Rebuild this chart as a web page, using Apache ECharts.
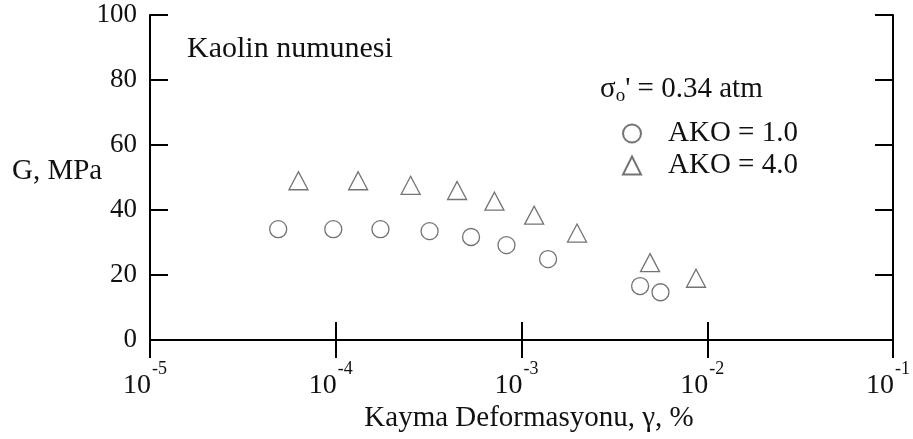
<!DOCTYPE html>
<html>
<head>
<meta charset="utf-8">
<script src="https://cdn.jsdelivr.net/npm/echarts@6/dist/echarts.min.js"></script>
<style>
  html, body { margin: 0; padding: 0; background: #fff; }
  #chart { width: 913px; height: 439px; }
</style>
</head>
<body>
<div id="chart"></div>
<script>
// Shear modulus vs. shear strain for kaolin specimens
const seriesNames = ['AKO = 1.0', 'AKO = 4.0'];
const strainAko1 = [4.9e-5, 9.7e-5, 1.74e-4, 3.2e-4, 5.35e-4, 8.3e-4, 1.39e-3, 4.35e-3, 5.6e-3];
const modulusAko1 = [34.1, 34.1, 34.1, 33.5, 31.7, 29.2, 24.9, 16.6, 14.7];
const strainAko4 = [6.3e-5, 1.32e-4, 2.53e-4, 4.5e-4, 7.15e-4, 1.17e-3, 1.99e-3, 4.92e-3, 8.7e-3];
const modulusAko4 = [49.0, 49.0, 47.6, 46.0, 42.7, 38.4, 32.9, 23.8, 19.0];
const yTicks = [0, 20, 40, 60, 80, 100];
const xTitle = 'Kayma Deformasyonu, γ, %';
const yTitle = 'G, MPa';
const sampleTitle = 'Kaolin numunesi';

const FONT = "'Liberation Serif', 'Times New Roman', serif";
const INK = '#111';
const MARK = '#505050';

const zip = (xs, ys) => xs.map((x, i) => [x, ys[i]]);

const axisLineStyle = { lineStyle: { color: '#000', width: 2 } };
const tickIn = { show: true, inside: true, length: 18, lineStyle: { color: '#000', width: 2 } };

const chart = echarts.init(document.getElementById('chart'), null, { renderer: 'canvas' });

chart.setOption({
  animation: false,
  backgroundColor: '#fff',
  textStyle: { fontFamily: FONT },
  grid: { left: 150, right: 20, top: 15, bottom: 99, containLabel: false },
  xAxis: [
    {
      type: 'log', logBase: 10, min: 1e-5, max: 1e-1,
      axisLine: axisLineStyle,
      axisTick: tickIn,
      minorTick: { show: false },
      splitLine: { show: false },
      axisLabel: {
        margin: 20,
        padding: [0, 10, 0, 0],
        formatter: v => '{b|10}{s|' + Math.round(Math.log10(v)) + '}',
        rich: {
          b: { fontFamily: FONT, fontSize: 28, color: INK, padding: [12, 0, 0, 0] },
          s: { fontFamily: FONT, fontSize: 18, color: INK, verticalAlign: 'top', padding: [0, 0, 0, 1] }
        }
      }
    },
    {
      type: 'log', logBase: 10, min: 1e-5, max: 1e-1, position: 'top',
      axisLine: axisLineStyle,
      axisTick: tickIn,
      axisLabel: { show: false },
      splitLine: { show: false }
    }
  ],
  yAxis: [
    {
      type: 'value', min: yTicks[0], max: yTicks[yTicks.length - 1], interval: 20,
      axisLine: { show: true, ...axisLineStyle },
      axisTick: tickIn,
      splitLine: { show: false },
      axisLabel: { margin: 13, fontFamily: FONT, fontSize: 27, color: INK }
    },
    {
      type: 'value', min: yTicks[0], max: yTicks[yTicks.length - 1], interval: 20, position: 'right',
      axisLine: { show: true, ...axisLineStyle },
      axisTick: tickIn,
      splitLine: { show: false },
      axisLabel: { show: false }
    }
  ],
  legend: {
    orient: 'vertical',
    left: 617, top: 114,
    itemWidth: 18, itemHeight: 18,
    itemGap: 3,
    data: seriesNames,
    textStyle: { fontFamily: FONT, fontSize: 29, color: INK, padding: [0, 0, 0, 22] }
  },
  series: [
    {
      name: seriesNames[0], type: 'scatter',
      symbol: 'circle', symbolSize: 17,
      itemStyle: { color: 'rgba(255,255,255,0)', borderColor: MARK, borderWidth: 1.3 },
      data: zip(strainAko1, modulusAko1)
    },
    {
      name: seriesNames[1], type: 'scatter',
      symbol: 'triangle', symbolSize: [19, 18],
      itemStyle: { color: 'rgba(255,255,255,0)', borderColor: MARK, borderWidth: 1.3 },
      data: zip(strainAko4, modulusAko4)
    }
  ],
  graphic: [
    {
      type: 'text', left: 187, top: 34,
      style: { text: sampleTitle, font: '30px ' + FONT, fill: INK }
    },
    {
      type: 'text', left: 600, top: 75,
      style: {
        text: "{a|σ}{s|o}{a|' = 0.34 atm}",
        fill: INK,
        rich: {
          a: { fontFamily: FONT, fontSize: 29, fill: INK },
          s: { fontFamily: FONT, fontSize: 19, fill: INK, verticalAlign: 'bottom', padding: [14, 0, 0, 0] }
        }
      }
    },
    {
      type: 'text', left: 12, top: 157,
      style: { text: yTitle, font: '29px ' + FONT, fill: INK }
    },
    {
      type: 'text', x: 529, y: 418,
      style: { text: xTitle, font: '29px ' + FONT, fill: INK, align: 'center', verticalAlign: 'middle' }
    }
  ]
});
</script>
</body>
</html>
